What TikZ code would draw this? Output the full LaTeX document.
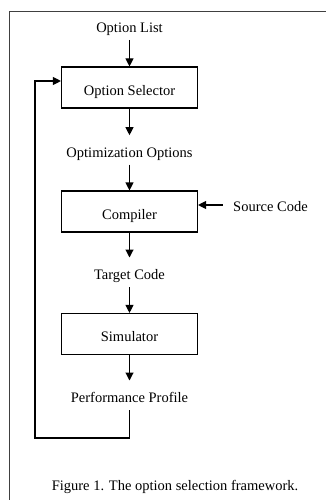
\documentclass[tikz,border=0pt]{standalone}
\usepackage{fontspec}
\setmainfont{Liberation Serif}
\usetikzlibrary{arrows.meta}
\begin{document}
\begin{tikzpicture}[x=1pt,y=-1pt,
  every node/.style={font=\fontsize{14.5}{17}\selectfont},
  box/.style={draw, line width=1.1pt, minimum width=136pt, minimum height=41pt, inner sep=0pt, text height=15.4pt, text depth=0pt},
  lbl/.style={text height=9.6pt, text depth=3.1pt, inner xsep=1pt, inner ysep=0pt},
  arr/.style={line width=1.1pt, -{Triangle[length=8pt,width=8pt]}},
  frame/.style={line width=0.9pt, black!75}]
\useasboundingbox (0,0) rectangle (326,500);
\draw[frame] (326,11) -- (9,11) -- (9,500);
\node[lbl, anchor=base] (ol) at (129.5,32.3) {Option List};
\node[box] (sel) at (129.5,87.5) {Option Selector};
\node[lbl, anchor=base] (oo) at (129.5,157) {Optimization Options};
\node[box] (cmp) at (129.5,211.5) {Compiler};
\node[lbl, anchor=base] (tc) at (129.5,279.3) {Target Code};
\node[box] (sim) at (129.5,334) {Simulator};
\node[lbl, anchor=base] (pp) at (129.5,402.3) {Performance Profile};
\node[lbl, anchor=base west] (src) at (232,211.7) {Source Code};
\node[anchor=base] (cap) at (175,490.7) {Figure 1. The option selection framework.};
\draw[arr, shorten <=4.4pt] (ol.south) -- (sel.north);
\draw[arr, shorten >=12pt] (sel.south) -- (oo.north);
\draw[arr, shorten <=4.4pt] (oo.south) -- (cmp.north);
\draw[arr, shorten >=12pt] (cmp.south) -- (tc.north);
\draw[arr, shorten <=4.4pt] (tc.south) -- (sim.north);
\draw[arr, shorten >=12pt] (sim.south) -- (pp.north);
\coordinate (f1) at (129.5,438);
\coordinate (f2) at (35,438);
\coordinate (f3) at (35,81);
\draw[arr, shorten <=4.4pt] (pp.south) -- (f1) -- (f2) -- (f3) -- (f3 -| sel.west);
\coordinate (s1) at (222.7,205);
\draw[arr] (s1) -- (s1 -| cmp.east);
\end{tikzpicture}
\end{document}
